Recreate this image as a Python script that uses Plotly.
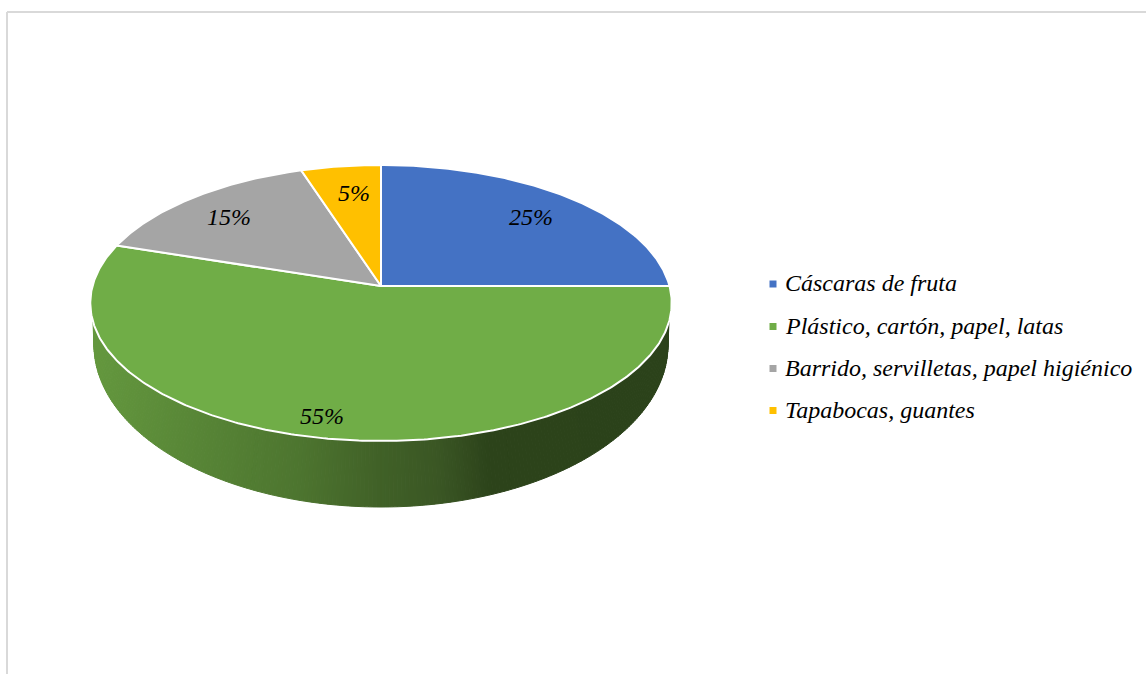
import numpy as np
import plotly.graph_objects as go

categories = ["Cáscaras de fruta", "Plástico, cartón, papel, latas",
              "Barrido, servilletas, papel higiénico", "Tapabocas, guantes"]
values = [25, 55, 15, 5]
colors = ["#4472C4", "#70AD47", "#A5A5A5", "#FFC000"]

W, H = 1146, 674
CX, CY = 381, 286          # pie centre in picture coordinates
A, B, K = 288.5, 135.9, 0.1232   # tilted-disc projection
# lower rim of the wall
RIM_CY, RIM_RX, RIM_RY = 345.0, 287.0, 162.0
WALL_FROM, WALL_TO = 0.291, 0.709   # visible part of the wall, as pie fractions
WALL_STOPS_X = [92, 200, 300, 381, 440, 490, 671]
WALL_STOPS_RGB = [(100, 152, 62), (87, 133, 54), (77, 117, 47), (64, 97, 39),
                  (58, 86, 36), (44, 67, 26), (43, 66, 26)]
LABEL_NUDGE = [(-3, 3), (-19, 11), (1, 3), (6, 5)]
LEGEND_MARK_X, LEGEND_TEXT_X = 773, 785
LEGEND_Y = [284, 326.5, 368.5, 410.5]
FONT = "Liberation Serif"
FONT_SIZE = 24


def project(frac, r=1.0):
    th = 2 * np.pi * np.asarray(frac, dtype=float)
    u, v = r * np.sin(th), r * np.cos(th)
    w = 1 + K * v
    return CX + A * u / w, CY - B * v / w


fig = go.Figure()

# side wall of the disc, drawn as thin bands
n = 220
fr = np.linspace(WALL_FROM, WALL_TO, n + 1)
tx, ty = project(fr)
phi = np.linspace(-np.pi / 2, np.pi / 2, n + 1)   # left to right
bx = CX + RIM_RX * np.sin(phi)
by = RIM_CY + RIM_RY * np.cos(phi)
# fr runs right-to-left along the front, so reverse to go left-to-right
tx, ty = tx[::-1], ty[::-1]
for i in range(n):
    xm = (tx[i] + tx[i + 1] + bx[i] + bx[i + 1]) / 4
    c = [np.interp(xm, WALL_STOPS_X, [s[j] for s in WALL_STOPS_RGB]) for j in range(3)]
    col = f"rgb({c[0]:.0f},{c[1]:.0f},{c[2]:.0f})"
    fig.add_trace(go.Scatter(
        x=[tx[i], tx[i + 1], bx[i + 1], bx[i], tx[i]],
        y=[ty[i], ty[i + 1], by[i + 1], by[i], ty[i]],
        mode="lines", fill="toself", fillcolor=col,
        line=dict(color=col, width=1), hoverinfo="skip", showlegend=False))

# top face slices
total = sum(values)
start = 0.0
mids = []
for name, val, col in zip(categories, values, colors):
    end = start + val / total
    f = np.linspace(start, end, max(8, int(val * 6)))
    ax, ay = project(f)
    fig.add_trace(go.Scatter(
        x=np.r_[CX, ax, CX], y=np.r_[CY, ay, CY],
        mode="lines", fill="toself", fillcolor=col,
        line=dict(color="white", width=2), name=name,
        hoverinfo="name", showlegend=False))
    mids.append((start + end) / 2)
    start = end

# percent labels
annotations = []
for val, m, (dx, dy) in zip(values, mids, LABEL_NUDGE):
    lx, ly = project(m, 0.8)
    annotations.append(dict(x=float(lx) + dx, y=float(ly) + dy, text=f"{val}%",
                            showarrow=False, xanchor="center", yanchor="middle",
                            font=dict(family=FONT, size=FONT_SIZE, color="black", style="italic")))

# legend
for name, col, y in zip(categories, colors, LEGEND_Y):
    fig.add_trace(go.Scatter(x=[LEGEND_MARK_X], y=[y], mode="markers",
                             marker=dict(symbol="square", size=7, color=col),
                             hoverinfo="skip", showlegend=False))
    annotations.append(dict(x=LEGEND_TEXT_X, y=y - 1, text=name, showarrow=False,
                            xanchor="left", yanchor="middle", xshift=-2,
                            font=dict(family=FONT, size=FONT_SIZE, color="black", style="italic")))

frame = dict(color="#D9D9D9", width=2)
fig.update_layout(
    width=W, height=H, margin=dict(l=0, r=0, t=0, b=0),
    paper_bgcolor="white", plot_bgcolor="white",
    xaxis=dict(range=[0, W], visible=False, fixedrange=True),
    yaxis=dict(range=[H, 0], visible=False, fixedrange=True),
    annotations=annotations,
    shapes=[dict(type="line", x0=7, x1=W, y0=12, y1=12, line=frame),
            dict(type="line", x0=7, x1=7, y0=12, y1=H, line=frame)],
)
fig.write_html("out.html", config=dict(displayModeBar=False),
               post_script="document.body.style.margin='0';document.body.style.overflow='hidden';")
